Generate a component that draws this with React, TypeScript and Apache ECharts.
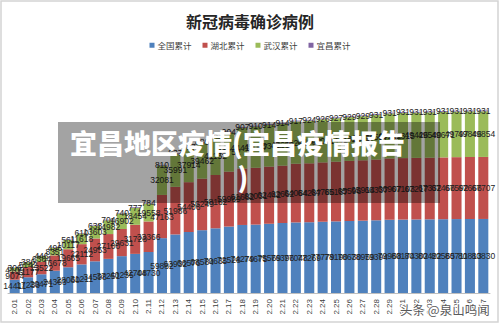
import React, { useEffect, useRef } from "react";
import * as echarts from "echarts";

const categories = [
  "2.01", "2.02", "2.03", "2.04", "2.05", "2.06", "2.07", "2.08", "2.09", "2.10",
  "2.11", "2.12", "2.13", "2.14", "2.15", "2.16", "2.17", "2.18", "2.19", "2.20",
  "2.21", "2.22", "2.23", "2.24", "2.25", "2.26", "2.27", "2.28", "2.29",
  "3.01", "3.02", "3.03", "3.04", "3.05", "3.06", "3.07",
];

const national = [
  14411, 17238, 20471, 24363, 28060, 31211, 34598, 37251, 40235, 42708,
  44730, 59882, 63932, 66576, 68584, 70635, 72528, 74279, 74675, 75569,
  76396, 77048, 77269, 77779, 78190, 78630, 78959, 79394, 79968,
  80174, 80302, 80422, 80565, 80711, 80813, 80830,
];

const hubei = [
  9074, 11177, 13522, 16678, 19665, 22112, 24953, 27100, 29631, 31728,
  33366, 47163, 51986, 54406, 56249, 58182, 59989, 61682, 62031, 62442,
  62662, 64084, 64287, 64786, 65187, 65596, 65914, 66337, 66907,
  67103, 67217, 67332, 67466, 67592, 67666, 67707,
];

const wuhan = [
  4109, 5142, 6384, 8351, 10117, 11618, 13603, 14982, 16902, 18454,
  19558, 32081, 35991, 37914, 39462, 41152, 42752, 44412, 45027, 45346,
  45660, 46201, 46607, 47071, 47441, 47824, 48137, 48557, 49122,
  49315, 49426, 49540, 49671, 49797, 49846, 49854,
];

const yichang = [
  306, 386, 446, 496, 561, 610, 633, 704, 740, 777,
  784, 810, 837, 857, 880, 894, 904, 907, 910, 914,
  914, 917, 924, 926, 927, 929, 929, 931, 931,
  931, 931, 931, 931, 931, 931, 931,
];

const seriesNames = ["全国累计", "湖北累计", "武汉累计", "宜昌累计"];
const seriesColors = ["#4F81BD", "#C0504D", "#9BBB59", "#8064A2"];
const titleText = "新冠病毒确诊病例";
const overlayLine1 = "宜昌地区疫情(宜昌疫情报告";
const overlayLine2 = ")";
const watermarkText = "头条 @泉山鸣闻";

export default function App() {
  const ref = useRef<HTMLDivElement>(null);

  useEffect(() => {
    if (!ref.current) return;
    const chart = echarts.init(ref.current, undefined, { renderer: "svg" });
    const dataSets = [national, hubei, wuhan, yichang];
    const numFont = "'Liberation Sans', Arial, sans-serif";
    const cjkFont = "'Noto Sans CJK SC', sans-serif";

    chart.setOption({
      animation: false,
      backgroundColor: "#ffffff",
      title: {
        text: titleText,
        left: "center",
        top: 8,
        textStyle: {
          fontSize: 16,
          fontWeight: "bold",
          color: "#262626",
          fontFamily: cjkFont,
        },
      },
      legend: {
        data: seriesNames,
        top: 36,
        left: "center",
        itemWidth: 5,
        itemHeight: 5,
        itemGap: 11,
        icon: "rect",
        textStyle: { fontSize: 8.5, color: "#404040", fontFamily: cjkFont, padding: [0, 0, 0, -2] },
      },
      grid: { left: 8, right: 10, top: 64, bottom: 32, containLabel: false },
      xAxis: {
        type: "category",
        data: categories,
        axisLine: { lineStyle: { color: "#bfbfbf", width: 1 } },
        axisTick: { show: false },
        axisLabel: {
          interval: 0,
          rotate: 90,
          fontSize: 8,
          margin: 6,
          color: "#404040",
          fontFamily: numFont,
        },
      },
      yAxis: {
        type: "value",
        min: 0,
        max: 250000,
        show: false,
        splitLine: { show: false },
      },
      series: dataSets.map((d, i) => ({
        name: seriesNames[i],
        type: "bar",
        stack: "total",
        data: d,
        barCategoryGap: "25%",
        itemStyle: { color: seriesColors[i] },
        emphasis: { disabled: true },
        label: {
          show: true,
          position: "inside",
          fontSize: 8.5,
          color: "#222222",
          fontFamily: numFont,
        },
      })),
      graphic: [
        {
          type: "rect",
          z: 100,
          shape: { x: 1, y: 1, width: 497, height: 321 },
          style: { fill: "none", stroke: "#d4d4d4", lineWidth: 1.5 },
        },
        {
          type: "rect",
          z: 100,
          shape: { x: 58, y: 122, width: 382, height: 81 },
          style: { fill: "rgba(0,0,0,0.36)" },
        },
        {
          type: "text",
          z: 101,
          x: 237.5,
          y: 142,
          style: {
            text: overlayLine1,
            fill: "#ffffff",
            fontSize: 27,
            fontWeight: 900,
            fontFamily: cjkFont,
            align: "center",
            verticalAlign: "middle",
          },
        },
        {
          type: "text",
          z: 101,
          x: 243,
          y: 176,
          style: {
            text: overlayLine2,
            fill: "#ffffff",
            fontSize: 27,
            fontWeight: 900,
            fontFamily: cjkFont,
            align: "center",
            verticalAlign: "middle",
          },
        },
        {
          type: "text",
          z: 101,
          x: 400,
          y: 309,
          style: {
            text: watermarkText,
            fill: "#5a5a5a",
            stroke: "#ffffff",
            lineWidth: 2,
            fontSize: 12.5,
            fontFamily: cjkFont,
            align: "left",
            verticalAlign: "middle",
          },
        },
      ],
    });

    return () => chart.dispose();
  }, []);

  return (
    <div
      ref={ref}
      style={{ position: "fixed", left: 0, top: 0, width: 500, height: 325, background: "#fff" }}
    />
  );
}
